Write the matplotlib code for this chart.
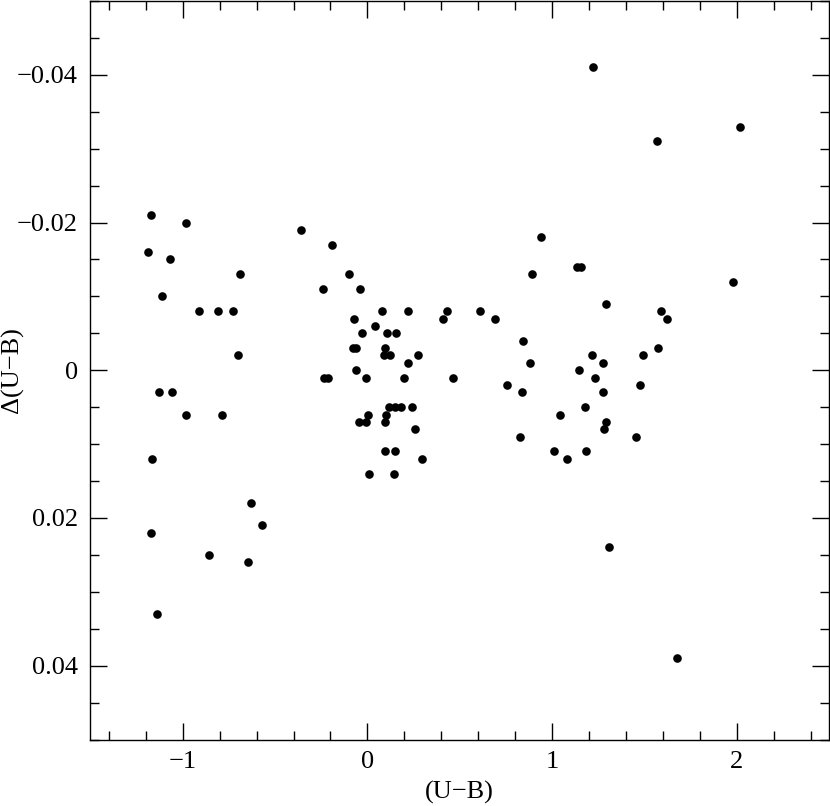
import matplotlib
matplotlib.use("Agg")
import matplotlib.pyplot as plt
from matplotlib.ticker import MultipleLocator

# (U-B) warna dan residu Delta(U-B)
ub = [
    -1.17, -0.98, -0.36, -1.19, -1.07, -0.69, -0.24, -1.11, -0.91, -0.81,
    -0.73, -0.70, -0.235, -0.215, -1.13, -1.06, -0.98, -0.79, -1.165, -0.63,
    -0.57, -1.17, -0.86, -0.645, -1.14,
    -0.19, -0.10, -0.04, 0.08, 0.22, 0.43, 0.61, -0.07, 0.41, 0.69,
    0.04, -0.03, 0.105, 0.157, -0.08, -0.06, 0.094, 0.09, 0.12, 0.276,
    0.222, -0.06, -0.005, 0.197, 0.466, 0.117, 0.15, 0.183, 0.239, 0.004,
    0.10, -0.045, -0.005, 0.096, 0.257, 0.096, 0.152, 0.296, 0.006, 0.145,
    1.22, 1.57, 2.02, 1.98, 0.94, 1.134, 1.159, 0.89, 1.29, 1.59,
    1.62, 0.84, 1.575, 0.878, 1.215, 1.49, 1.275, 1.147, 1.235, 0.755,
    1.474, 0.838, 1.278, 1.179, 1.044, 1.293, 1.284, 0.824, 1.456, 1.013,
    1.185, 1.08, 1.31, 1.676,
]
dub = [
    -0.021, -0.020, -0.019, -0.016, -0.015, -0.013, -0.011, -0.010, -0.008, -0.008,
    -0.008, -0.002, 0.001, 0.001, 0.003, 0.003, 0.006, 0.006, 0.012, 0.018,
    0.021, 0.022, 0.025, 0.026, 0.033,
    -0.017, -0.013, -0.011, -0.008, -0.008, -0.008, -0.008, -0.007, -0.007, -0.007,
    -0.006, -0.005, -0.005, -0.005, -0.003, -0.003, -0.003, -0.002, -0.002, -0.002,
    -0.001, 0.000, 0.001, 0.001, 0.001, 0.005, 0.005, 0.005, 0.005, 0.006,
    0.006, 0.007, 0.007, 0.007, 0.008, 0.011, 0.011, 0.012, 0.014, 0.014,
    -0.041, -0.031, -0.033, -0.012, -0.018, -0.014, -0.014, -0.013, -0.009, -0.008,
    -0.007, -0.004, -0.003, -0.001, -0.002, -0.002, -0.001, 0.000, 0.001, 0.002,
    0.002, 0.003, 0.003, 0.005, 0.006, 0.007, 0.008, 0.009, 0.009, 0.011,
    0.011, 0.012, 0.024, 0.039,
]

x_ticks = [-1, 0, 1, 2]
x_labels = ["\u22121", "0", "1", "2"]
y_ticks = [-0.04, -0.02, 0, 0.02, 0.04]
y_labels = ["\u22120.04", "\u22120.02", "0", "0.02", "0.04"]

plt.rcParams["font.family"] = ["Liberation Serif", "DejaVu Serif"]

fig = plt.figure(figsize=(8.3, 8.06), dpi=100)
ax = fig.add_axes([0.109, 0.0825, 0.8898, 0.9163])

ax.plot(ub, dub, "o", color="black", ms=6.2, mew=0)

ax.set_xlim(-1.5, 2.5)
ax.set_ylim(0.05, -0.05)

ax.set_xticks(x_ticks)
ax.set_xticklabels(x_labels)
ax.set_yticks(y_ticks)
ax.set_yticklabels(y_labels)
ax.xaxis.set_minor_locator(MultipleLocator(0.2))
ax.yaxis.set_minor_locator(MultipleLocator(0.005))

ax.tick_params(which="both", direction="in", top=True, right=True, width=1.0,
               labelsize=19, colors="black")
ax.tick_params(which="major", length=12)
ax.tick_params(which="minor", length=6.5)
ax.tick_params(axis="x", which="major", pad=8)
ax.tick_params(axis="y", which="major", pad=9)
for s in ax.spines.values():
    s.set_linewidth(1.0)

ax.set_xlabel("(U\u2212B)", fontsize=19, labelpad=6)
ax.set_ylabel("\u0394(U\u2212B)", fontsize=19, va="center")
ax.yaxis.set_label_coords(-0.106, 0.5)

fig.savefig("out.png", dpi=100)
